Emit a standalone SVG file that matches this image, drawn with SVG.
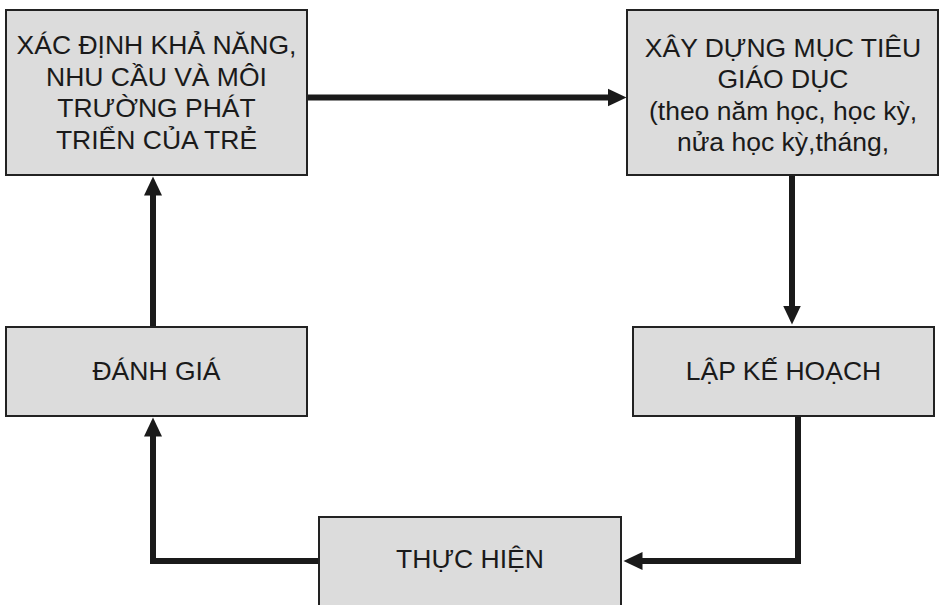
<svg xmlns="http://www.w3.org/2000/svg" width="939" height="605" viewBox="0 0 939 605">
<defs>
<style>
.box{fill:#dcdcdc;stroke:#222;stroke-width:2}
.t{font-family:"Liberation Sans",Arial,sans-serif;font-size:26.5px;fill:#1a1a1a;text-anchor:middle}
.c{fill:none;stroke:#1a1a1a;stroke-width:6;stroke-linejoin:miter}
</style>
<marker id="ah" markerUnits="userSpaceOnUse" markerWidth="20" markerHeight="20" viewBox="0 0 20 20" refX="0.5" refY="10" orient="auto">
<path d="M0,1 L19,10 L0,19 Z" fill="#1a1a1a"/>
</marker>
</defs>
<g id="connectors">
<path class="c" d="M307,97.5 H608" marker-end="url(#ah)"/>
<path class="c" d="M792,175 V306" marker-end="url(#ah)"/>
<path class="c" d="M798,416 V561 H642" marker-end="url(#ah)"/>
<path class="c" d="M319,561 H153 V436" marker-end="url(#ah)"/>
<path class="c" d="M153,327 V195" marker-end="url(#ah)"/>
</g>
<g id="n1">
<rect class="box" x="6" y="10" width="301" height="165"/>
<text class="t" x="156.5" y="54">XÁC ĐỊNH KHẢ NĂNG,</text>
<text class="t" x="156.5" y="85.5">NHU CẦU VÀ MÔI</text>
<text class="t" x="156.5" y="117">TRƯỜNG PHÁT</text>
<text class="t" x="156.5" y="148.5">TRIỂN CỦA TRẺ</text>
</g>
<g id="n2">
<rect class="box" x="627" y="10" width="311" height="165"/>
<text class="t" x="783" y="56.5">XÂY DỰNG MỤC TIÊU</text>
<text class="t" x="783" y="88">GIÁO DỤC</text>
<text class="t" x="783" y="119.5">(theo năm học, học kỳ,</text>
<text class="t" x="783" y="151">nửa học kỳ,tháng,</text>
</g>
<g id="n3">
<rect class="box" x="633" y="327" width="301" height="89"/>
<text class="t" x="783.5" y="380">LẬP KẾ HOẠCH</text>
</g>
<g id="n4">
<rect class="box" x="319" y="517" width="302" height="100"/>
<text class="t" x="470" y="568">THỰC HIỆN</text>
</g>
<g id="n5">
<rect class="box" x="6" y="327" width="301" height="89"/>
<text class="t" x="156.5" y="380">ĐÁNH GIÁ</text>
</g>
</svg>
